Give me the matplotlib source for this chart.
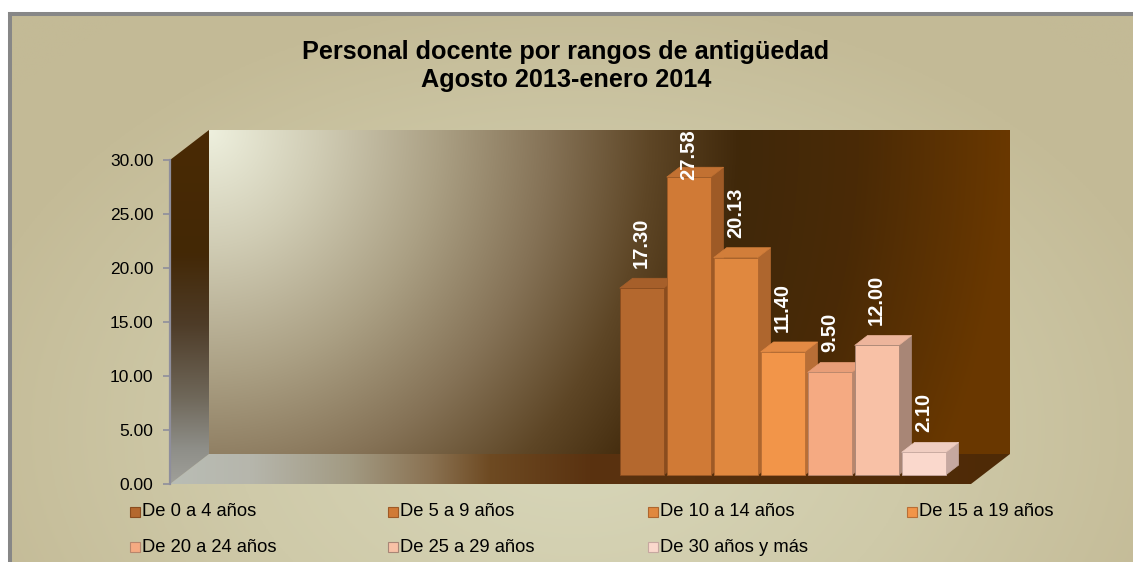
import numpy as np
import matplotlib
matplotlib.use("Agg")
import matplotlib.pyplot as plt
from matplotlib.patches import Polygon, Rectangle
from matplotlib.colors import to_rgb

# ---------------- data ----------------
categories = ["De 0 a 4 años", "De 5 a 9 años", "De 10 a 14 años", "De 15 a 19 años",
              "De 20 a 24 años", "De 25 a 29 años", "De 30 años y más"]
values = [17.30, 27.58, 20.13, 11.40, 9.50, 12.00, 2.10]
yticks = [0, 5, 10, 15, 20, 25, 30]
ytick_labels = ["0.00", "5.00", "10.00", "15.00", "20.00", "25.00", "30.00"]
title_lines = ["Personal docente por rangos de antigüedad", "Agosto 2013-enero 2014"]

front_colors = ["#B4682E", "#D07A36", "#E0883F", "#F29549", "#F5AA82", "#F8C1A6", "#FAD8CC"]
top_colors = ["#A65F2A", "#C27132", "#D27E3A", "#E38A44", "#E89E78", "#EDB59C", "#F0CEC2"]
side_colors = ["#8A4C1E", "#9E5A26", "#AE662E", "#B86E36", "#B8866C", "#A88676", "#C6A8A0"]

plt.rcParams["font.family"] = ["Liberation Sans", "DejaVu Sans"]

W, H = 1133, 562
fig = plt.figure(figsize=(W / 100, H / 100), dpi=100)
fig.patch.set_facecolor("white")


def interp_colors(t, stops):
    pos = np.array([s[0] for s in stops], dtype=float)
    cols = np.array([to_rgb(s[1]) for s in stops])
    out = np.zeros(t.shape + (3,))
    for c in range(3):
        out[..., c] = np.interp(t, pos, cols[:, c])
    return out


# ---------------- background ----------------
bg = fig.add_axes([10 / W, 0, 1 - 10 / W, (H - 13.5) / H])
bg.set_xlim(0, 1)
bg.set_ylim(0, 1)
gx = np.linspace(10, W, 400)
gy = np.linspace(13.5, H, 200)[:, None]
d = np.sqrt(((gx - 575) / 620.0) ** 2 + ((gy - 430) / 430.0) ** 2)
bg_img = interp_colors(np.clip(d, 0, 1.2), [(0, "#D8D7BA"), (0.55, "#CFCAA9"), (1.0, "#C4BB97"), (1.2, "#C3BA96")])
bg.imshow(bg_img, extent=(0, 1, 0, 1), aspect="auto", origin="upper", zorder=0)
for s in ["right", "bottom"]:
    bg.spines[s].set_visible(False)
for s in ["left", "top"]:
    bg.spines[s].set_color("#878787")
    bg.spines[s].set_linewidth(2.9)
bg.set_xticks([])
bg.set_yticks([])

# ---------------- title ----------------
fig.text(566 / W, 1 - 52 / H, title_lines[0], ha="center", va="center",
         fontsize=18.2, fontweight="bold", color="black")
fig.text(566 / W, 1 - 80 / H, title_lines[1], ha="center", va="center",
         fontsize=18.2, fontweight="bold", color="black")

# ---------------- main 3D-looking axes ----------------
ax_px = (170, 484, 1010, 130)  # left, bottom, right, top in pixels
ax = fig.add_axes([ax_px[0] / W, (H - ax_px[1]) / H, (ax_px[2] - ax_px[0]) / W, (ax_px[1] - ax_px[3]) / H])
ax.patch.set_alpha(0)

pitch_px = 47.0
px_per_unit_y = 324.0 / 30.0
x0 = -438.0 / pitch_px
x1 = x0 + (ax_px[2] - ax_px[0]) / pitch_px
ytop = (ax_px[1] - ax_px[3]) / px_per_unit_y
ax.set_xlim(x0, x1)
ax.set_ylim(0, ytop)

DX = 39.0 / pitch_px          # full depth, x (data)
DY = 30.0 / px_per_unit_y     # full depth, y (data)
ymax = yticks[-1]

# back wall
wall_w, wall_h = 801, 324
dxp = np.arange(wall_w)[None, :]
dyp = np.arange(wall_h)[:, None]
r = np.sqrt(dxp ** 2 + (0.95 * dyp) ** 2)
wall_img = interp_colors(r, [(0, "#EEF0DE"), (110, "#D0CCB4"), (230, "#ABA084"), (340, "#857256"),
                             (440, "#5E4626"), (530, "#40280A"), (650, "#4A2A06"), (801, "#6A3800"),
                             (1000, "#6A3800")])
ax.imshow(wall_img, extent=(x0 + DX, x1, DY, DY + ymax), aspect="auto", origin="upper", zorder=1)

# floor
floor_poly = Polygon([(x0, 0), (x1 - DX, 0), (x1, DY), (x0 + DX, DY)], closed=True,
                     facecolor="none", edgecolor="none", transform=ax.transData)
ax.add_patch(floor_poly)
fx = np.arange(840)[None, :] * np.ones((10, 1))
floor_img = interp_colors(fx, [(0, "#B9BDB5"), (80, "#B6B6AC"), (180, "#A29A82"), (260, "#8A7252"),
                               (320, "#6E4A22"), (420, "#5A3210"), (840, "#4E2A06")])
im_f = ax.imshow(floor_img, extent=(x0, x1, 0, DY), aspect="auto", origin="upper", zorder=2)
im_f.set_clip_path(floor_poly)

# side wall
side_poly = Polygon([(x0, 0), (x0 + DX, DY), (x0 + DX, DY + ymax), (x0, ymax)], closed=True,
                    facecolor="none", edgecolor="none", transform=ax.transData)
ax.add_patch(side_poly)
sv = np.linspace(0, 1, 300)[:, None] * np.ones((1, 10))
side_img = interp_colors(sv, [(0, "#4A2A04"), (0.35, "#432806"), (0.55, "#4E3C28"), (0.75, "#6E6658"),
                              (0.9, "#8E8E88"), (1.0, "#A0A09A")])
im_s = ax.imshow(side_img, extent=(x0, x0 + DX, 0, DY + ymax), aspect="auto", origin="upper", zorder=2)
im_s.set_clip_path(side_poly)

# bars
xs = np.arange(len(values))
bw = 44.0 / pitch_px
f_front, f_depth = 0.30, 0.33
bx = xs + f_front * DX
by = f_front * DY
ddx, ddy = f_depth * DX, f_depth * DY
label_len = 50.0 / px_per_unit_y
label_gap = 20.0 / px_per_unit_y
for i, v in enumerate(values):
    z = 10 + 3 * i
    left = bx[i]
    top = by + v
    ax.add_patch(Polygon([(left + bw, by), (left + bw + ddx, by + ddy), (left + bw + ddx, top + ddy),
                          (left + bw, top)], closed=True, facecolor=side_colors[i],
                         edgecolor=side_colors[i], lw=0.5, zorder=z))
    ax.add_patch(Polygon([(left, top), (left + bw, top), (left + bw + ddx, top + ddy), (left + ddx, top + ddy)],
                         closed=True, facecolor=top_colors[i], edgecolor=top_colors[i], lw=0.5, zorder=z + 1))
    ax.bar(left, v, width=bw, bottom=by, align="edge", color=front_colors[i],
           edgecolor=side_colors[i], linewidth=0.6, zorder=z + 2)
    ly = min(top + label_gap, ytop - label_len)
    ax.text(left + bw / 2, ly, f"{v:.2f}", rotation=90, ha="center", va="bottom",
            color="white", fontweight="bold", fontsize=14.5, zorder=60)

# y axis
for s in ["top", "right", "bottom"]:
    ax.spines[s].set_visible(False)
ax.spines["left"].set_bounds(0, ymax)
ax.spines["left"].set_color("#8E8E9C")
ax.spines["left"].set_linewidth(1.6)
ax.spines["left"].set_zorder(5)
ax.set_xticks([])
ax.set_yticks(yticks)
ax.set_yticklabels(ytick_labels)
ax.tick_params(axis="y", direction="out", length=5, width=1.2, color="#8E8E9C",
               labelsize=12.5, pad=7, labelcolor="black")

# legend (manual, 4 columns x 2 rows)
col_x = [130, 388, 648, 907]
row_y = [512, 547]
for i, name in enumerate(categories):
    cx = col_x[i % 4]
    cy = row_y[i // 4]
    fig.add_artist(Rectangle((cx / W, 1 - (cy + 5) / H), 10 / W, 10 / H, transform=fig.transFigure,
                             facecolor=front_colors[i], edgecolor=side_colors[i], lw=0.8))
    fig.text((cx + 12) / W, 1 - cy / H, name, ha="left", va="center", fontsize=13.2, color="black")

fig.savefig("out.png", dpi=100)
